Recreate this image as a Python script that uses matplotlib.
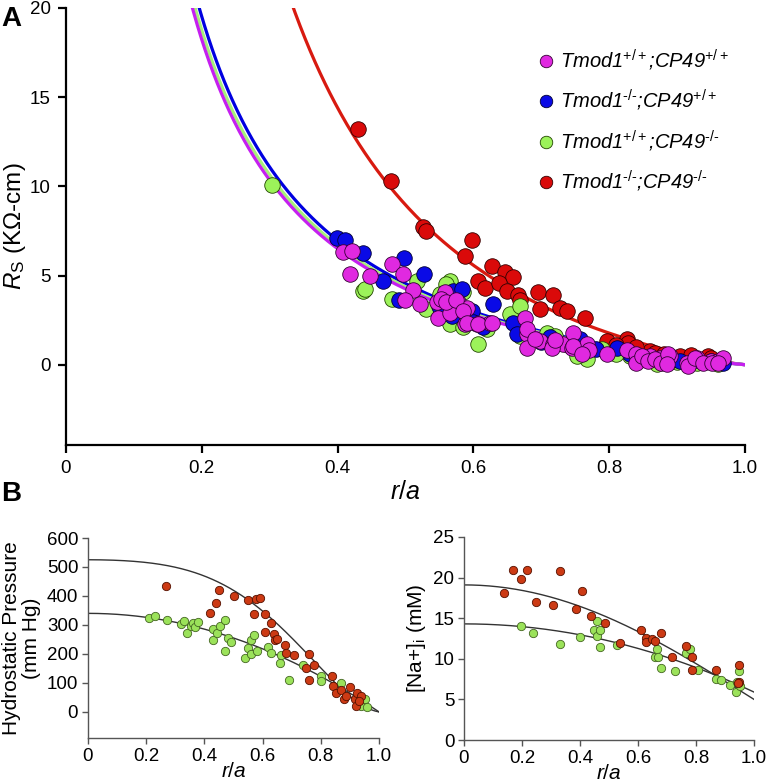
import numpy as np
import matplotlib
matplotlib.use("Agg")
import matplotlib.pyplot as plt

plt.rcParams['font.family'] = ['Liberation Sans', 'DejaVu Sans']
plt.rcParams['mathtext.fontset'] = 'custom'
plt.rcParams['mathtext.rm'] = 'Liberation Sans'
plt.rcParams['mathtext.it'] = 'Liberation Sans:italic'
plt.rcParams['mathtext.bf'] = 'Liberation Sans:bold'

# ---------------- Panel A data (r/a, Rs in KOhm-cm) ----------------
mag_x = [0.408, 0.421, 0.418, 0.448, 0.48, 0.497, 0.511, 0.499, 0.521, 0.546, 0.558, 0.577, 0.548,
         0.566, 0.59, 0.588, 0.605, 0.624, 0.676, 0.679, 0.679, 0.698, 0.717, 0.732, 0.747, 0.745,
         0.767, 0.77, 0.797, 0.826, 0.84, 0.86, 0.875, 0.89, 0.915, 0.93, 0.95, 0.96, 0.968, 0.553,
         0.56, 0.574, 0.585, 0.591, 0.607, 0.627, 0.679, 0.69, 0.716, 0.72, 0.747, 0.76, 0.84,
         0.848, 0.857, 0.867, 0.877, 0.887, 0.885, 0.916, 0.926, 0.938, 0.951, 0.96]
mag_y = [6.3, 6.4, 5.1, 5.0, 5.67, 5.1, 4.16, 3.6, 3.4, 3.5, 4.05, 3.5, 2.6,
         2.9, 3.2, 2.3, 2.3, 2.36, 2.64, 1.74, 0.96, 1.35, 1.18, 1.18, 1.8, 0.96,
         1.18, 0.8, 0.6, 0.8, 0.6, 0.5, 0.4, 0.5, 0.1, 0.4, 0.2, 0.2, 0.35, 3.7,
         3.5, 3.6, 3.03, 2.36, 2.3, 2.36, 2.0, 1.46, 0.96, 1.4, 1.07, 0.6, 0.1,
         0.5, 0.22, 0.3, 0.1, 0.6, 0.05, -0.05, 0.4, 0.1, 0.1, 0.1]

blue_x = [0.399, 0.411, 0.437, 0.498, 0.527, 0.467, 0.57, 0.583, 0.629, 0.568, 0.598, 0.614, 0.658,
          0.664, 0.713, 0.757, 0.761, 0.811, 0.86, 0.904, 0.968, 0.95, 0.55, 0.6, 0.7, 0.78, 0.83,
          0.88, 0.93, 0.49]
blue_y = [7.13, 6.97, 6.29, 5.96, 5.06, 4.7, 4.15, 4.25, 3.43, 2.75, 3.0, 2.1, 2.36,
          1.74, 1.57, 1.46, 0.79, 0.96, 0.39, 0.22, 0.1, 0.2, 3.3, 2.4, 1.3, 0.9, 0.6,
          0.4, 0.25, 3.6]

green_x = [0.303, 0.437, 0.44, 0.517, 0.566, 0.56, 0.585, 0.551, 0.566, 0.585, 0.607, 0.654, 0.669,
           0.669, 0.708, 0.72, 0.767, 0.752, 0.79, 0.83, 0.87, 0.9, 0.93, 0.96, 0.48, 0.53, 0.62,
           0.74, 0.81, 0.89]
green_y = [10.06, 4.15, 4.27, 4.7, 4.7, 4.5, 4.1, 3.98, 2.3, 2.1, 1.18, 2.87, 3.3,
           1.63, 1.75, 1.6, 0.34, 0.5, 0.9, 0.5, 0.05, 0.15, 0.1, 0.05, 3.7, 3.1, 2.0,
           1.1, 0.6, 0.2]

red_x = [0.43, 0.479, 0.526, 0.53, 0.598, 0.588, 0.627, 0.647, 0.659, 0.607, 0.617, 0.637, 0.649,
         0.666, 0.669, 0.695, 0.717, 0.727, 0.738, 0.698, 0.764, 0.797, 0.826, 0.828, 0.86, 0.868,
         0.88, 0.904, 0.92, 0.945, 0.95, 0.84, 0.81]
red_y = [13.2, 10.3, 7.7, 7.5, 6.97, 6.1, 5.56, 5.17, 4.9, 4.7, 4.3, 4.6, 4.15,
         3.9, 3.6, 4.05, 3.9, 3.2, 3.03, 3.15, 2.6, 1.35, 1.46, 1.2, 0.75, 0.65,
         0.6, 0.5, 0.55, 0.5, 0.4, 1.0, 1.1]

# fitted curves  Rs = k * (1/r - 1)^p
fit_k = {'mag': 4.25, 'green': 4.37, 'blue': 4.55, 'red': 8.96}
fit_p = {'mag': 1.05, 'green': 1.05, 'blue': 1.05, 'red': 1.17}

labels_A = ['Tmod1$^{+/+}$;CP49$^{+/+}$',
            'Tmod1$^{‐/‐}$;CP49$^{+/+}$',
            'Tmod1$^{+/+}$;CP49$^{‐/‐}$',
            'Tmod1$^{‐/‐}$;CP49$^{‐/‐}$']

# ---------------- Panel B data ----------------
pr_red_x = [0.269, 0.42, 0.439, 0.45, 0.502, 0.55, 0.571, 0.579, 0.59, 0.609, 0.609, 0.63, 0.639,
            0.641, 0.649, 0.678, 0.679, 0.709, 0.749, 0.76, 0.76, 0.777, 0.838, 0.842, 0.851, 0.871,
            0.88, 0.888, 0.899, 0.919, 0.92, 0.923, 0.939, 0.931]
pr_red_y = [433, 341, 376, 420, 399, 387, 338, 390, 394, 339, 275, 307, 270,
            249, 252, 232, 203, 195, 152, 200, 111, 163, 123, 91, 66, 77,
            43, 54, 86, 43, 20, 66, 54, 39]
pr_green_x = [0.21, 0.231, 0.271, 0.318, 0.33, 0.34, 0.354, 0.362, 0.369, 0.379, 0.43, 0.43, 0.445,
              0.452, 0.47, 0.471, 0.481, 0.491, 0.541, 0.55, 0.56, 0.56, 0.569, 0.581, 0.62, 0.63,
              0.659, 0.662, 0.691, 0.738, 0.8, 0.801, 0.869, 0.928, 0.939, 0.951, 0.96]
pr_green_y = [324, 330, 316, 305, 313, 272, 295, 307, 293, 309, 286, 249, 272,
              295, 316, 209, 255, 242, 186, 221, 249, 200, 267, 209, 224, 203,
              169, 195, 109, 163, 123, 106, 100, 31, 20, 45, 16]

na_red_x = [0.138, 0.169, 0.198, 0.218, 0.247, 0.307, 0.33, 0.387, 0.408, 0.437, 0.486, 0.537, 0.609,
            0.626, 0.629, 0.649, 0.659, 0.678, 0.718, 0.767, 0.787, 0.787, 0.868, 0.948, 0.948, 0.945]
na_red_y = [18.1, 20.9, 19.8, 20.9, 17.0, 16.6, 20.8, 16.1, 18.4, 15.3, 14.4, 11.9, 13.6,
            12.6, 12.1, 12.4, 12.2, 13.2, 10.2, 11.6, 10.2, 8.6, 8.6, 9.2, 7.2, 7.0]
na_green_x = [0.198, 0.238, 0.33, 0.399, 0.447, 0.46, 0.459, 0.468, 0.468, 0.528, 0.659, 0.667, 0.669,
              0.678, 0.728, 0.767, 0.778, 0.808, 0.868, 0.887, 0.916, 0.937, 0.941, 0.948, 0.951]
na_green_y = [14.1, 13.2, 11.8, 12.7, 13.5, 14.7, 12.8, 13.6, 11.5, 11.7, 10.2, 11.2, 10.2,
              8.9, 8.5, 10.7, 11.2, 8.6, 7.5, 7.4, 6.8, 5.9, 7.2, 8.5, 6.6]

# model curves for panel B: value = c0 + c2*r^2 + c4*r^4 + c6*r^6
pr_fit_red = (525.0, -194.2, -1106.1, 775.3)
pr_fit_green = (340.0, -340.0, 0.0, 0.0)
na_fit_red = (19.1, -17.0, 2.9, 0.0)
na_fit_green = (14.3, -8.4, 0.0, 0.0)

# ---------------- colours ----------------
C_MAG, C_BLUE, C_GREEN, C_RED = '#E029E0', '#0A0AE6', '#9CF25A', '#DA0A0A'
L_MAG, L_BLUE, L_GREEN, L_RED = '#C51FF0', '#0000E0', '#A6F07A', '#D81A10'
B_RED, B_GREEN = '#CC3A14', '#9BE25A'

fig = plt.figure(figsize=(7.71, 7.82), dpi=100)

# ================= Panel A =================
axA = fig.add_axes([0.0856, 0.431, 0.9663 - 0.0856, 0.9898 - 0.431])
r = np.linspace(0.12, 1.0, 600)
for key, col, z in [('red', L_RED, 2), ('blue', L_BLUE, 2.1), ('green', L_GREEN, 2.2), ('mag', L_MAG, 2.3)]:
    axA.plot(r, fit_k[key] * (1.0 / r - 1.0) ** fit_p[key], color=col, lw=2.3, zorder=z,
             solid_capstyle='butt')

s_A = 125
axA.scatter(red_x, red_y, s=s_A, c=C_RED, edgecolors='#330000', linewidths=0.6, zorder=3)
axA.scatter(green_x, green_y, s=s_A, c=C_GREEN, edgecolors='#224400', linewidths=0.6, zorder=3.1)
axA.scatter(blue_x, blue_y, s=s_A, c=C_BLUE, edgecolors='#000033', linewidths=0.6, zorder=3.2)
axA.scatter(mag_x, mag_y, s=s_A, c=C_MAG, edgecolors='#330033', linewidths=0.6, zorder=3.3)

axA.set_xlim(0, 1.0)
axA.set_ylim(-4.5, 20)
axA.set_xticks([0, 0.2, 0.4, 0.6, 0.8, 1.0])
axA.set_xticklabels(['0', '0.2', '0.4', '0.6', '0.8', '1.0'])
axA.set_yticks([0, 5, 10, 15, 20])
for sp in ['top', 'right']:
    axA.spines[sp].set_visible(False)
for sp in ['left', 'bottom']:
    axA.spines[sp].set_linewidth(1.6)
axA.tick_params(direction='out', length=6, width=1.6, labelsize=13.5, pad=5)
axA.set_xlabel(r'$r/a$', fontsize=18, labelpad=2)
axA.set_ylabel(r'$R_{\mathrm{S}}$ (KΩ-cm)', fontsize=17.5)
axA.yaxis.set_label_coords(-0.056, 0.5)

handles = []
for col, ec in [(C_MAG, '#330033'), (C_BLUE, '#000033'), (C_GREEN, '#224400'), (C_RED, '#330000')]:
    h, = axA.plot([], [], 'o', color=col, markeredgecolor=ec, markeredgewidth=0.6, markersize=9)
    handles.append(h)
axA.legend(handles, labels_A, loc='upper left', bbox_to_anchor=(0.677, 0.927),
           frameon=False, prop={'size': 14.5, 'style': 'italic'}, handletextpad=0.1,
           labelspacing=0.75, handlelength=1.2, borderaxespad=0)

fig.text(0.002, 0.992, 'A', fontsize=20, fontweight='bold', va='top', ha='left')
fig.text(0.002, 0.385, 'B', fontsize=20, fontweight='bold', va='top', ha='left')

# ================= Panel B left =================
def style_b(ax):
    for sp in ['top', 'right']:
        ax.spines[sp].set_visible(False)
    for sp in ['left', 'bottom']:
        ax.spines[sp].set_linewidth(1.0)
        ax.spines[sp].set_color('#555555')
    ax.tick_params(direction='out', length=4, width=1.0, color='#555555', labelsize=13.5, pad=3)


def model(c, x):
    return c[0] + c[1] * x ** 2 + c[2] * x ** 4 + c[3] * x ** 6


axB1 = fig.add_axes([0.1141, 0.0563, 0.4916 - 0.1141, 0.312 - 0.0563])
rr = np.linspace(0, 1.0, 300)
for c in [pr_fit_red, pr_fit_green]:
    axB1.plot(rr, model(c, rr), color='#333333', lw=1.0, zorder=2)
axB1.scatter(pr_green_x, pr_green_y, s=36, c=B_GREEN, edgecolors='#446622', linewidths=0.6, zorder=3)
axB1.scatter(pr_red_x, pr_red_y, s=36, c=B_RED, edgecolors='#551100', linewidths=0.6, zorder=3.1)
axB1.set_xlim(0, 1.0)
axB1.set_ylim(-90, 600)
axB1.set_yticks([0, 100, 200, 300, 400, 500, 600])
axB1.set_xticks([0, 0.2, 0.4, 0.6, 0.8, 1.0])
axB1.set_xticklabels(['0', '0.2', '0.4', '0.6', '0.8', '1.0'])
style_b(axB1)
axB1.set_xlabel(r'$r/a$', fontsize=15, labelpad=-2)
axB1.set_ylabel('Hydrostatic Pressure\n(mm Hg)', fontsize=15, labelpad=4, linespacing=1.05)

# ================= Panel B right =================
axB2 = fig.add_axes([0.6018, 0.0537, 0.978 - 0.6018, 0.3133 - 0.0537])
for c in [na_fit_red, na_fit_green]:
    axB2.plot(rr, model(c, rr), color='#333333', lw=1.0, zorder=2)
axB2.scatter(na_green_x, na_green_y, s=36, c=B_GREEN, edgecolors='#446622', linewidths=0.6, zorder=3)
axB2.scatter(na_red_x, na_red_y, s=36, c=B_RED, edgecolors='#551100', linewidths=0.6, zorder=3.1)
axB2.set_xlim(0, 1.0)
axB2.set_ylim(0, 25)
axB2.set_yticks([0, 5, 10, 15, 20, 25])
axB2.set_xticks([0, 0.2, 0.4, 0.6, 0.8, 1.0])
axB2.set_xticklabels(['0', '0.2', '0.4', '0.6', '0.8', '1.0'])
style_b(axB2)
axB2.set_xlabel(r'$r/a$', fontsize=15, labelpad=-2)
axB2.set_ylabel(r'[Na+]$_{\mathrm{i}}$ (mM)', fontsize=15, labelpad=4)

fig.savefig('out.png', dpi=100)
